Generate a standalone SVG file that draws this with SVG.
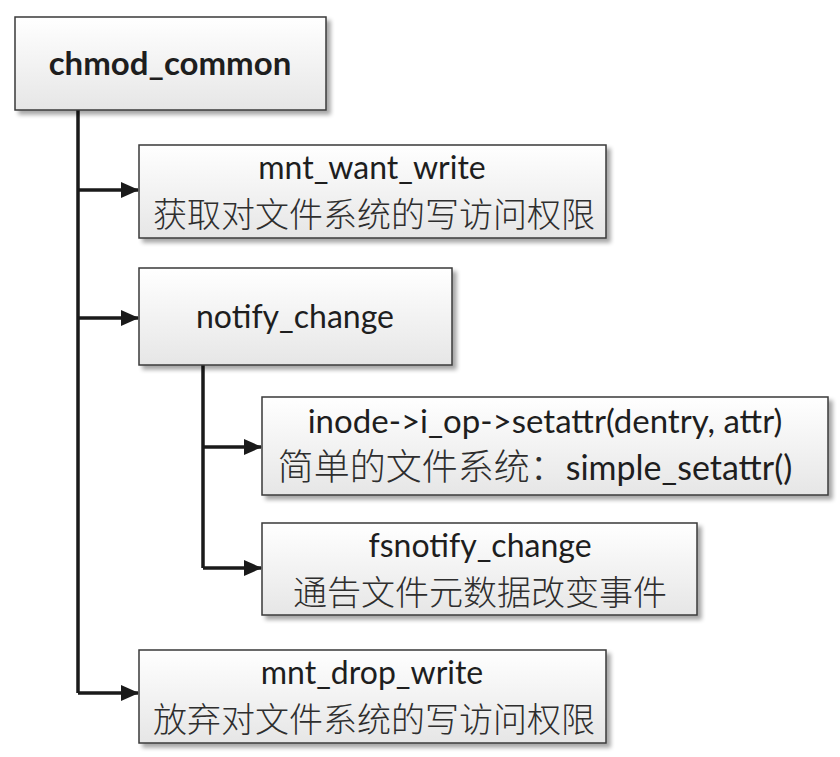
<svg xmlns="http://www.w3.org/2000/svg" width="840" height="757" viewBox="0 0 840 757">
<defs>
<linearGradient id="g" x1="0" y1="0" x2="0" y2="1">
<stop offset="0" stop-color="#ffffff"/>
<stop offset="1" stop-color="#e6e6e6"/>
</linearGradient>
<filter id="sh" x="-5%" y="-5%" width="115%" height="125%">
<feGaussianBlur in="SourceAlpha" stdDeviation="2"/>
<feOffset dx="4" dy="4" result="b"/>
<feComponentTransfer><feFuncA type="linear" slope="0.35"/></feComponentTransfer>
<feMerge><feMergeNode/><feMergeNode in="SourceGraphic"/></feMerge>
</filter>
<marker id="ah" markerWidth="18" markerHeight="16" refX="17" refY="8" orient="auto" markerUnits="userSpaceOnUse">
<path d="M0,0 L18,8 L0,16 Z" fill="#1a1a1a"/>
</marker>
</defs>
<style>
.box{fill:url(#g);stroke:#3a3a3a;stroke-width:1.5;filter:url(#sh)}
.t{font-family:Lato,"Open Sans","Liberation Sans","Noto Sans CJK SC",sans-serif;font-size:32px;fill:#1e1e1e;text-anchor:middle}
.c{font-family:"Noto Sans CJK SC",sans-serif;font-size:34px;font-weight:300;fill:#2e2e2e;text-anchor:middle}
.b{font-weight:bold;font-size:33px}
.ln{fill:none;stroke:#1a1a1a;stroke-width:3.5}
</style>
<g id="connectors">
<path class="ln" d="M78,110 V693"/>
<path class="ln" d="M78,190 H138" marker-end="url(#ah)"/>
<path class="ln" d="M78,318 H138" marker-end="url(#ah)"/>
<path class="ln" d="M78,693 H138" marker-end="url(#ah)"/>
<path class="ln" d="M203,365 V568"/>
<path class="ln" d="M203,447 H261" marker-end="url(#ah)"/>
<path class="ln" d="M203,568 H261" marker-end="url(#ah)"/>
</g>
<g id="chmod_common">
<rect class="box" x="15" y="17" width="311" height="93"/>
<text class="t b" x="170" y="75">chmod_common</text>
</g>
<g id="mnt_want_write">
<rect class="box" x="139" y="145" width="467" height="93"/>
<text class="t" x="372" y="179">mnt_want_write</text>
<text class="c" x="374" y="227">获取对文件系统的写访问权限</text>
</g>
<g id="notify_change">
<rect class="box" x="139" y="268" width="313" height="97"/>
<text class="t" x="295" y="328">notify_change</text>
</g>
<g id="setattr">
<rect class="box" x="262" y="397" width="566" height="98"/>
<text class="t" x="545" y="433" style="font-size:33px">inode-&gt;i_op-&gt;setattr(dentry, attr)</text>
<text class="c" x="535" y="480" style="font-size:36px">简单的文件系统：<tspan class="t" style="font-size:34px;font-weight:normal;fill:#1e1e1e">simple_setattr()</tspan></text>
</g>
<g id="fsnotify_change">
<rect class="box" x="262" y="523" width="435" height="92"/>
<text class="t" x="480" y="557">fsnotify_change</text>
<text class="c" x="480" y="605">通告文件元数据改变事件</text>
</g>
<g id="mnt_drop_write">
<rect class="box" x="139" y="650" width="467" height="93"/>
<text class="t" x="372" y="684">mnt_drop_write</text>
<text class="c" x="374" y="732">放弃对文件系统的写访问权限</text>
</g>
</svg>
